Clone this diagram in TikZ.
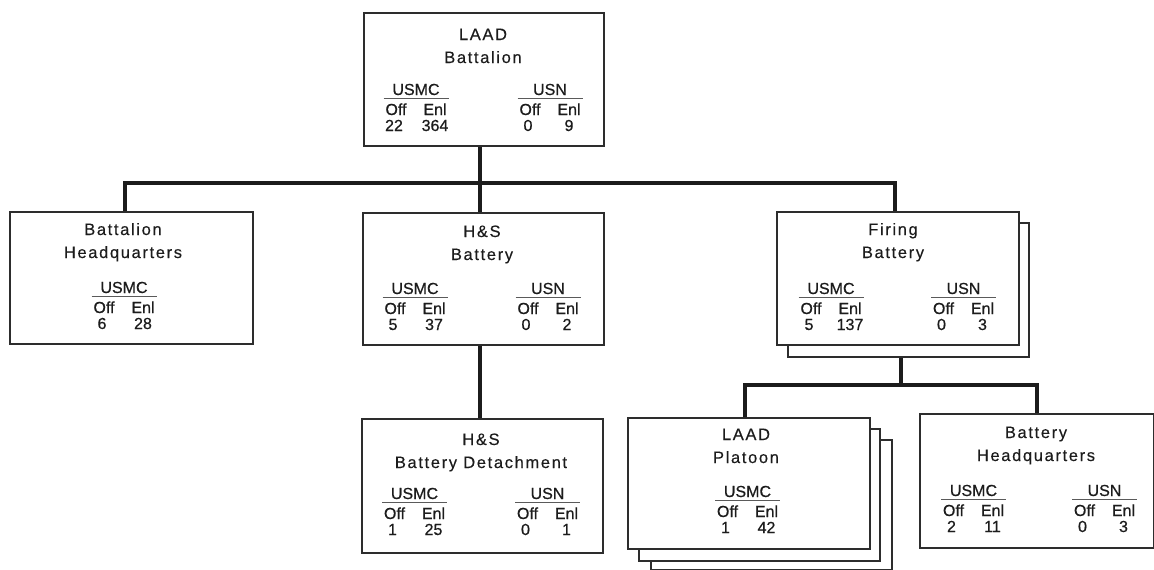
\documentclass[tikz,border=0pt]{standalone}
\usepackage{fontspec}
\setmainfont{Liberation Sans}
\newfontfamily\titlefont[LetterSpace=10,FakeBold=0.3]{Liberation Sans}
\newfontfamily\countfont[FakeBold=0.6]{Liberation Sans}
\usetikzlibrary{positioning,calc}
\definecolor{ink}{RGB}{28,28,28}
\definecolor{edge}{RGB}{45,45,45}
\definecolor{rulegray}{RGB}{90,90,90}

% unit title: name, x, first baseline, line one, line two
\newcommand{\unitname}[5]{%
  \node[head] (#1-l1) at (#2,#3) {#4};
  \node[head] (#1-l2) at (#2,#3+23) {#5};}

% strength block: name, x, label baseline, label, officers, enlisted
\newcommand{\strength}[6]{%
  \node[small] (#1) at (#2,#3) {#4};
  \draw[rulegray, line width=1.3pt] (#2-32.5,#3+3.5) -- (#2+32.5,#3+3.5);
  \node[small] (#1-off) at (#2-20,#3+20) {Off};
  \node[small] (#1-enl) at (#2+19,#3+20) {Enl};
  \node[small] (#1-o) at (#2-22,#3+36) {#5};
  \node[small] (#1-e) at (#2+19,#3+36) {#6};}

\begin{document}
\begin{tikzpicture}[x=1pt, y=-1pt,
    unit/.style={draw=edge, line width=1.5pt, fill=white, anchor=north west,
      inner sep=0pt, minimum width=241pt, minimum height=133pt},
    conn/.style={ink, line width=4pt},
    head/.style={anchor=base, inner sep=0pt, text=ink,
      font=\titlefont\fontsize{16.5}{20}\selectfont},
    small/.style={anchor=base, inner sep=0pt, text=ink,
      font=\countfont\fontsize{16}{18}\selectfont}]

    \useasboundingbox (0,0) rectangle (1154,570);

    % Boxes, stacked copies first
    \node[unit, minimum width=240pt] (laad) at (363,12) {};
    \node[unit, minimum width=243pt, minimum height=132pt] (hqbn) at (9,211) {};
    \node[unit, minimum height=132pt] (hsbtry) at (362,212) {};
    \node[unit, minimum height=134pt] (firing-back) at (787,222) {};
    \node[unit, minimum width=242pt] (firing) at (776,211) {};
    \node[unit, minimum height=134pt] (hsdet) at (361,418) {};
    \node[unit, minimum height=130pt] (platoon-back2) at (650,439) {};
    \node[unit, minimum height=132pt] (platoon-back1) at (638,428) {};
    \node[unit, minimum width=242pt, minimum height=131pt] (platoon) at (627,417) {};
    \node[unit, minimum width=234pt, minimum height=134pt] (btryhq) at (919,413) {};

    % Battalion level
    \unitname{laad}{483}{40}{LAAD}{Battalion}
    \strength{laad-usmc}{416}{95}{USMC}{22}{364}
    \strength{laad-usn}{550}{95}{USN}{0}{9}

    % Battalion Headquarters
    \unitname{hqbn}{123}{235}{Battalion}{Headquarters}
    \strength{hqbn-usmc}{124}{293}{USMC}{6}{28}

    % H&S Battery
    \unitname{hsbtry}{482}{237}{H\&S}{Battery}
    \strength{hsbtry-usmc}{415}{294}{USMC}{5}{37}
    \strength{hsbtry-usn}{548}{294}{USN}{0}{2}

    % Firing Battery
    \unitname{firing}{893}{235}{Firing}{Battery}
    \strength{firing-usmc}{831}{294}{USMC}{5}{137}
    \strength{firing-usn}{963.5}{294}{USN}{0}{3}

    % H&S Battery Detachment
    \unitname{hsdet}{481}{445}{H\&S}{Battery Detachment}
    \strength{hsdet-usmc}{414.5}{499}{USMC}{1}{25}
    \strength{hsdet-usn}{547.5}{499}{USN}{0}{1}

    % LAAD Platoon
    \unitname{platoon}{746}{440}{LAAD}{Platoon}
    \strength{platoon-usmc}{747.5}{497}{USMC}{1}{42}

    % Battery Headquarters
    \unitname{btryhq}{1036}{438}{Battery}{Headquarters}
    \strength{btryhq-usmc}{973.5}{496}{USMC}{2}{11}
    \strength{btryhq-usn}{1104.5}{496}{USN}{0}{3}

    % Connectors
    \coordinate (busL) at (124.5,183);
    \coordinate (busR) at (894.5,183);
    \coordinate (trunk) at (480,183);
    \coordinate (fbusL) at (745,385);
    \coordinate (fbusR) at (1037,385);
    \coordinate (ftap) at (901,385);

    \draw[conn] (busL |- hqbn.north) -- (busL) -- (busR) -- (busR |- firing.north);
    \draw[conn] (trunk |- laad.south) -- (trunk |- hsbtry.north);
    \draw[conn] (trunk |- hsbtry.south) -- (trunk |- hsdet.north);
    \draw[conn] (ftap |- firing-back.south) -- (ftap);
    \draw[conn] (fbusL |- platoon.north) -- (fbusL) -- (fbusR) -- (fbusR |- btryhq.north);

\end{tikzpicture}
\end{document}
